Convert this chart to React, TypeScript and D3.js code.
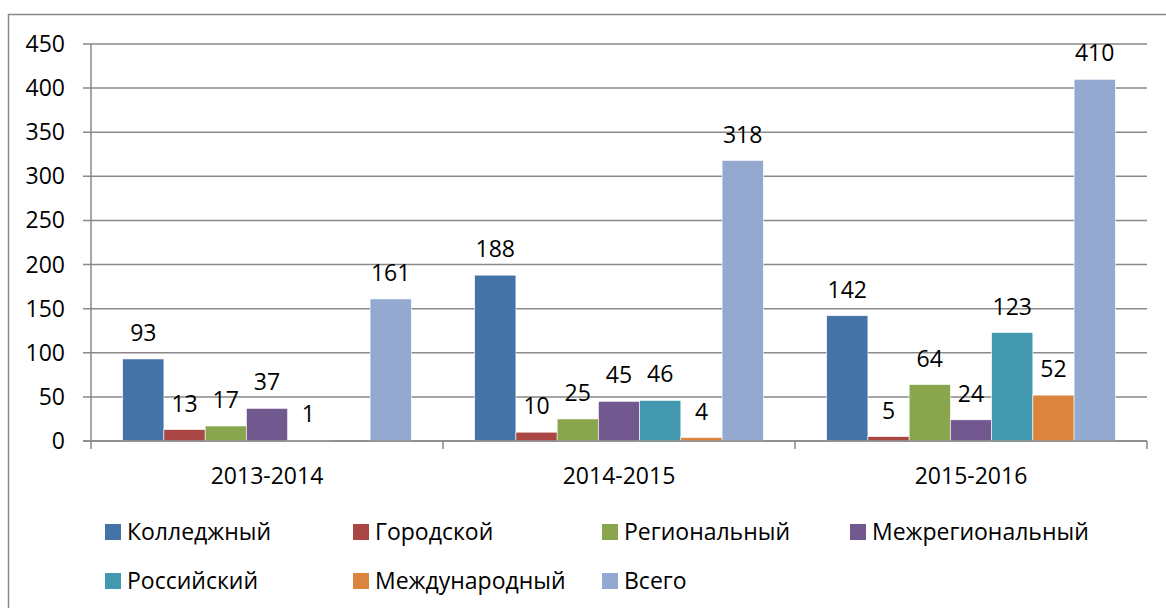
import { useRef, useEffect } from 'react';
import * as d3 from 'd3';

const years = ['2013-2014', '2014-2015', '2015-2016'];
const seriesNames = ['Колледжный', 'Городской', 'Региональный', 'Межрегиональный', 'Российский', 'Международный', 'Всего'];
const colors = ['#4572A7', '#AA4643', '#89A54E', '#71588F', '#4198AF', '#DB843D', '#93A9CF'];
// values per series, one per year (null = no bar / no label)
const kolledzh = [93, 188, 142];
const gorod = [13, 10, 5];
const region = [17, 25, 64];
const mezhregion = [37, 45, 24];
const ross = [1, 46, 123];
const mezhdunar = [null, 4, 52];
const vsego = [161, 318, 410];
const allSeries = [kolledzh, gorod, region, mezhregion, ross, mezhdunar, vsego];
const yTicks = [0, 50, 100, 150, 200, 250, 300, 350, 400, 450];

const W = 1166;
const H = 608;
const font = '"Open Sans", "Noto Sans", sans-serif';
const fs = 23;

export default function App() {
  const svgRef = useRef<SVGSVGElement>(null);

  useEffect(() => {
    const svg = d3.select(svgRef.current);
    svg.selectAll('*').remove();

    const left = 91;
    const right = 1147;
    const top = 44;
    const bottom = 441;

    // outer frame of the chart area
    svg.append('rect')
      .attr('x', 8.5).attr('y', 14.5)
      .attr('width', W + 20).attr('height', H + 20)
      .attr('fill', '#fff')
      .attr('stroke', '#898989')
      .attr('stroke-width', 1.5);

    const y = d3.scaleLinear().domain([0, 450]).range([bottom, top]);
    const x0 = d3.scaleBand().domain(years).range([left, right]).padding(0);
    const bw = x0.bandwidth();
    const x1 = d3.scaleBand().domain(seriesNames).range([bw * 0.09, bw * 0.91]).padding(0);

    // gridlines + y labels
    const grid = svg.append('g');
    grid.selectAll('line')
      .data(yTicks)
      .join('line')
      .attr('x1', left - 8).attr('x2', right)
      .attr('y1', d => y(d)).attr('y2', d => y(d))
      .attr('stroke', '#898989')
      .attr('stroke-width', 1.5);
    grid.selectAll('text')
      .data(yTicks)
      .join('text')
      .attr('x', left - 26)
      .attr('y', d => y(d))
      .attr('dy', '0.35em')
      .attr('text-anchor', 'end')
      .attr('font-family', font)
      .attr('font-size', fs)
      .attr('fill', '#000')
      .text(d => d);

    // y axis line
    svg.append('line')
      .attr('x1', left).attr('x2', left)
      .attr('y1', top).attr('y2', bottom + 8)
      .attr('stroke', '#898989').attr('stroke-width', 1.5);

    // category tick marks
    const bounds = years.map(c => (x0(c) as number) + bw);
    svg.append('g').selectAll('line')
      .data(bounds)
      .join('line')
      .attr('x1', d => d).attr('x2', d => d)
      .attr('y1', bottom).attr('y2', bottom + 8)
      .attr('stroke', '#898989').attr('stroke-width', 1.5);

    // bars
    allSeries.forEach((vals, si) => {
      const g = svg.append('g');
      const rows = years.map((yr, i) => ({ yr, v: vals[i] })).filter(d => d.v !== null);
      g.selectAll('rect')
        .data(rows)
        .join('rect')
        .attr('x', d => (x0(d.yr) as number) + (x1(seriesNames[si]) as number))
        .attr('y', d => y(d.v as number))
        .attr('width', x1.bandwidth())
        .attr('height', d => bottom - y(d.v as number))
        .attr('fill', colors[si])
        .attr('stroke', '#fff')
        .attr('stroke-width', 0.6);
      g.selectAll('text')
        .data(rows)
        .join('text')
        .attr('x', d => (x0(d.yr) as number) + (x1(seriesNames[si]) as number) + x1.bandwidth() / 2)
        .attr('y', d => y(d.v as number) - 26)
        .attr('dy', '0.35em')
        .attr('text-anchor', 'middle')
        .attr('font-family', font)
        .attr('font-size', fs)
        .attr('fill', '#000')
        .text(d => d.v as number);
    });

    // redraw baseline on top of bars
    svg.append('line')
      .attr('x1', left - 8).attr('x2', right)
      .attr('y1', bottom).attr('y2', bottom)
      .attr('stroke', '#898989').attr('stroke-width', 1.5);

    // category labels
    svg.append('g').selectAll('text')
      .data(years)
      .join('text')
      .attr('x', d => (x0(d) as number) + bw / 2)
      .attr('y', 476)
      .attr('dy', '0.35em')
      .attr('text-anchor', 'middle')
      .attr('font-family', font)
      .attr('font-size', fs)
      .attr('fill', '#000')
      .text(d => d);

    // legend
    const colX = [105, 353, 602, 850];
    const rowY = [532, 581];
    const leg = svg.append('g').selectAll('g')
      .data(seriesNames)
      .join('g')
      .attr('transform', (d, i) => `translate(${colX[i % 4]},${rowY[Math.floor(i / 4)]})`);
    leg.append('rect')
      .attr('x', 0).attr('y', -8)
      .attr('width', 16).attr('height', 16)
      .attr('fill', (d, i) => colors[i]);
    leg.append('text')
      .attr('x', 22).attr('y', 0)
      .attr('dy', '0.35em')
      .attr('font-family', font)
      .attr('font-size', fs)
      .attr('fill', '#000')
      .text(d => d);
  }, []);

  return (
    <svg ref={svgRef} width={W} height={H} style={{ position: 'absolute', left: 0, top: 0, display: 'block' }} />
  );
}
